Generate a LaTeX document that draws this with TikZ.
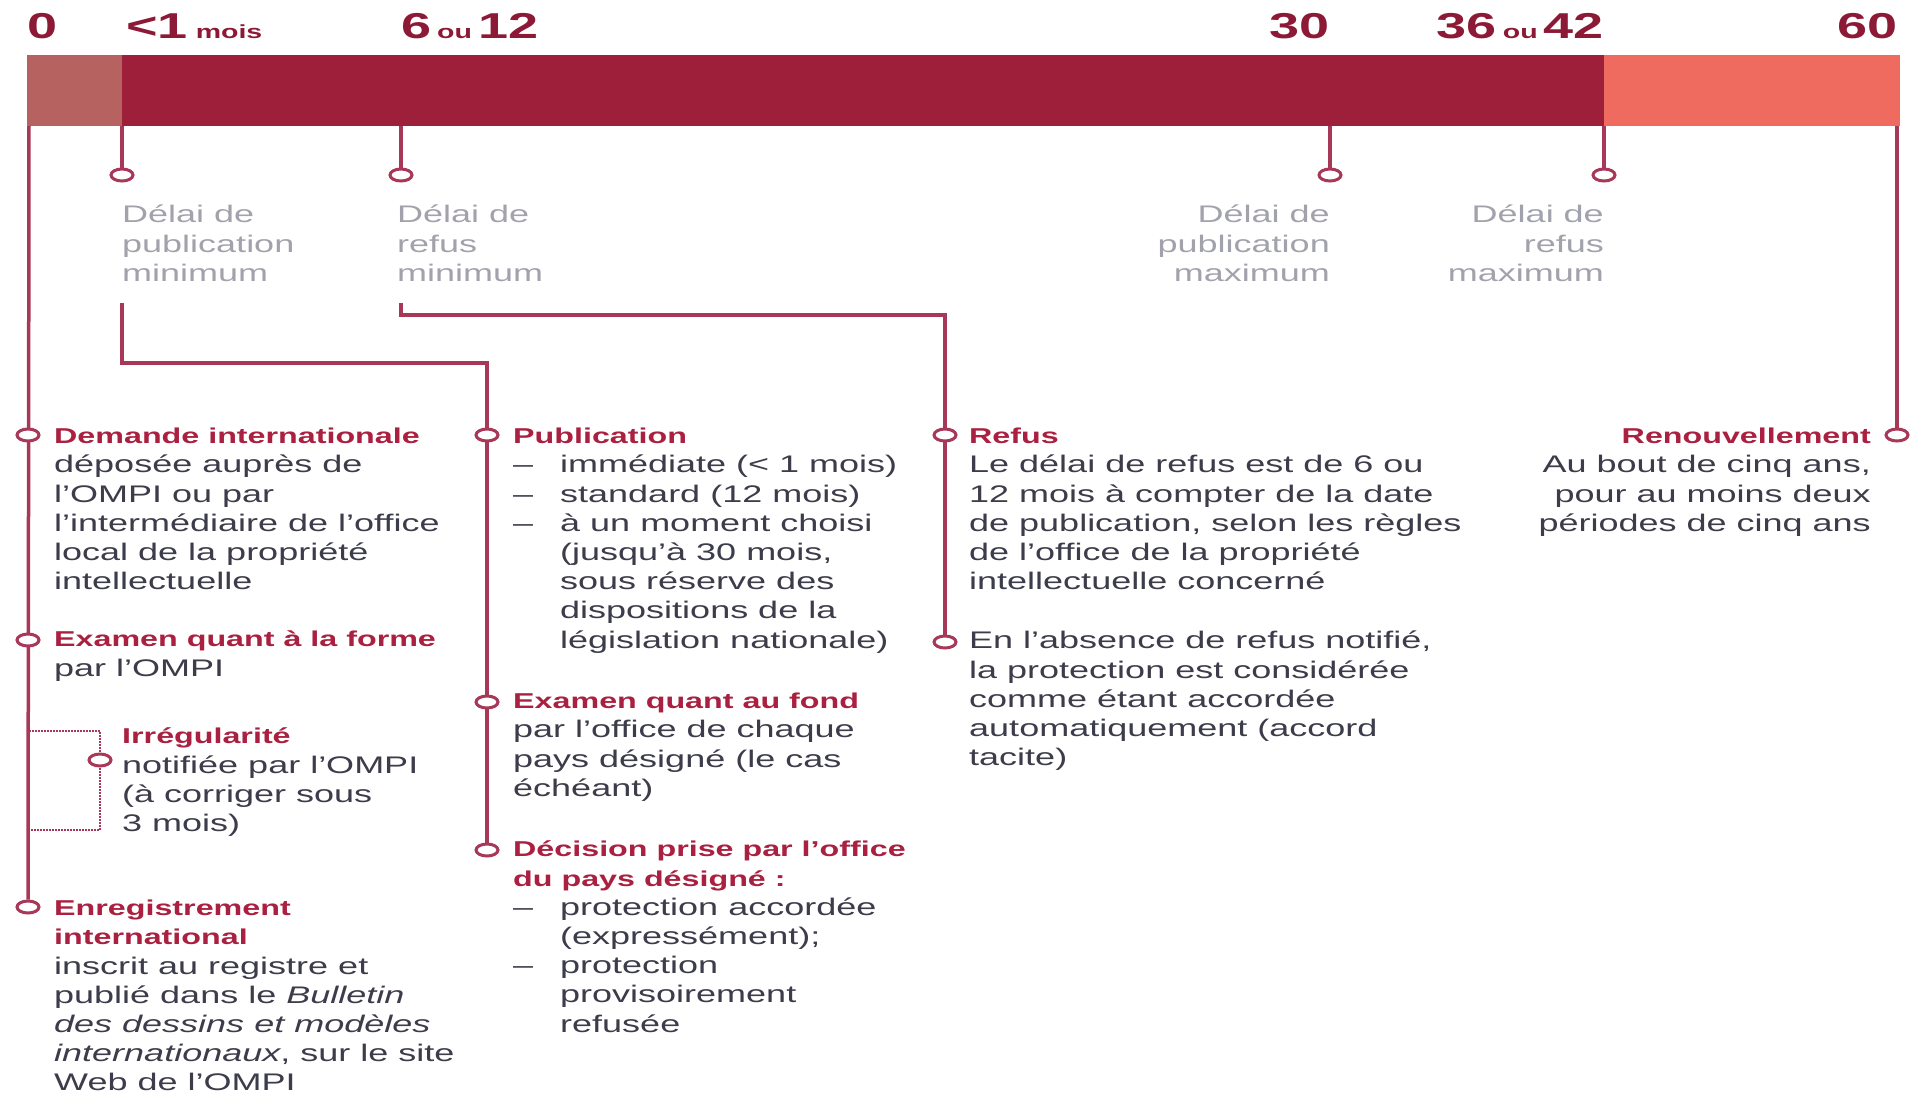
\documentclass[tikz,border=0pt]{standalone}
\usepackage{fontspec}
\setmainfont[FakeStretch=1.5]{Liberation Sans}
\usetikzlibrary{shapes.geometric,backgrounds}

\definecolor{barlight}{RGB}{182,98,96}
\definecolor{bardark}{RGB}{158,31,58}
\definecolor{barsalmon}{RGB}{239,107,95}
\definecolor{numred}{RGB}{140,26,54}
\definecolor{titlered}{RGB}{170,32,64}
\definecolor{linered}{RGB}{168,56,88}
\definecolor{bodygray}{RGB}{60,60,74}
\definecolor{labelgray}{RGB}{162,162,172}

\newcommand{\ttl}[1]{{\fontsize{21.5}{29.2}\selectfont\bfseries\color{titlered}#1}}
\newcommand{\smallred}[1]{{\fontsize{19}{20}\selectfont #1}}
\newcommand{\dashitem}{\makebox[47pt][l]{–}}
\newcommand{\itemgap}{\makebox[47pt]{}}

\tikzset{
  event/.style={ellipse, draw=linered, line width=3pt, fill=white,
    minimum width=22pt, minimum height=12pt, inner sep=0pt},
  timeline/.style={draw=linered, line width=3.5pt},
  irreg/.style={draw=linered, line width=2pt, densely dotted},
  blurb/.style={anchor=north west, inner sep=0pt, align=left, text=bodygray,
    font=\fontsize{24}{29.2}\selectfont, execute at begin node=\strut},
  blurbright/.style={blurb, anchor=north east, align=right},
  delay/.style={blurb, text=labelgray},
  delayright/.style={delay, anchor=north east, align=right},
  monthnum/.style={inner sep=0pt, text=numred, font=\fontsize{36}{40}\selectfont\bfseries},
}

\begin{document}
\begin{tikzpicture}[x=1pt, y=-1pt]
    \useasboundingbox (0,0) rectangle (1916,1096);
    % The bar with the months.
        \fill[barlight] (27,55) rectangle (122,126);
        \fill[bardark] (122,55) rectangle (1604,126);
        \fill[barsalmon] (1604,55) rectangle (1900,126);
        \node[monthnum, anchor=base west] (m0) at (27,38) {0};
        \node[monthnum, anchor=base west] (m1) at (126,38) {<1\hspace{8pt}\smallred{mois}};
        \node[monthnum, anchor=base west] (m2) at (401,38) {6\hspace{6pt}\smallred{ou}\hspace{6pt}12};
        \node[monthnum, anchor=base east] (m3) at (1330,38) {30};
        \node[monthnum, anchor=base east] (m4) at (1604,38) {36\hspace{6pt}\smallred{ou}\hspace{6pt}42};
        \node[monthnum, anchor=base east] (m5) at (1898,38) {60};
    % Points on the lower edge of the bar.
        \coordinate (b0) at (29,126);
        \coordinate (b1) at (122,126);
        \coordinate (b2) at (401,126);
        \coordinate (b3) at (1330,126);
        \coordinate (b4) at (1604,126);
        \coordinate (b5) at (1897,126);
    % Ticks and the delays below them.
        \node[event] (t1) at (122,175) {};
        \node[event] (t2) at (401,175) {};
        \node[event] (t3) at (1330,175) {};
        \node[event] (t4) at (1604,175) {};
        \node[delay] (d1) at (122,205) {Délai de\\publication\\minimum};
        \node[delay] (d2) at (397,205) {Délai de\\refus\\minimum};
        \node[delayright] (d3) at (1330,205) {Délai de\\publication\\maximum};
        \node[delayright] (d4) at (1604,205) {Délai de\\refus\\maximum};
        \coordinate (p1) at (122,303);
        \coordinate (p2) at (401,303);
    % Below nodes are the steps.
        \node[event] (demande) at (28,435) {};
        \node[event] (forme) at (28,640) {};
        \node[event] (irr) at (100,760) {};
        \node[event] (enreg) at (28,907) {};
        \node[event] (pub) at (487,435) {};
        \node[event] (fond) at (487,702) {};
        \node[event] (decision) at (487,850) {};
        \node[event] (refus) at (945,435) {};
        \node[event] (absence) at (945,642) {};
        \node[event] (renouv) at (1897,435) {};
    % This draws the dotted bracket of the irregularity.
        \coordinate (i1) at (29,731);
        \coordinate (i2) at (100,731);
        \coordinate (i3) at (100,830);
        \coordinate (i4) at (29,830);
    % The texts.
        \node[blurb] (txtdemande) at (54,428) {\ttl{Demande internationale}\\déposée auprès de\\l'OMPI ou par\\l'intermédiaire de l'office\\local de la propriété\\intellectuelle};
        \node[blurb] (txtforme) at (54,631) {\ttl{Examen quant à la forme}\\par l'OMPI};
        \node[blurb] (txtirr) at (122,728) {\ttl{Irrégularité}\\notifiée par l'OMPI\\(à corriger sous\\3 mois)};
        \node[blurb] (txtenreg) at (54,900) {\ttl{Enregistrement}\\\ttl{international}\\inscrit au registre et\\publié dans le \textit{Bulletin}\\\textit{des dessins et modèles}\\\textit{internationaux}, sur le site\\Web de l'OMPI};
        \node[blurb] (txtpub) at (513,428) {\ttl{Publication}\\\dashitem immédiate (< 1\hspace{10pt}mois)\\\dashitem standard (12 mois)\\\dashitem à un moment choisi\\\itemgap (jusqu'à 30 mois,\\\itemgap sous réserve des\\\itemgap dispositions de la\\\itemgap législation nationale)};
        \node[blurb] (txtfond) at (513,693) {\ttl{Examen quant au fond}\\par l'office de chaque\\pays désigné (le cas\\échéant)};
        \node[blurb] (txtdecision) at (513,841) {\ttl{Décision prise par l'office}\\\ttl{du pays désigné :}\\\dashitem protection accordée\\\itemgap (expressément);\\\dashitem protection\\\itemgap provisoirement\\\itemgap refusée};
        \node[blurb] (txtrefus) at (969,428) {\ttl{Refus}\\Le délai de refus est de 6 ou\\12 mois à compter de la date\\de publication, selon les règles\\de l'office de la propriété\\intellectuelle concerné};
        \node[blurb] (txtabsence) at (969,631) {En l'absence de refus notifié,\\la protection est considérée\\comme étant accordée\\automatiquement (accord\\tacite)};
        \node[blurbright] (txtrenouv) at (1871,428) {\ttl{Renouvellement}\\Au bout de cinq ans,\\pour au moins deux\\périodes de cinq ans};
    % The lines go under the circles.
    \begin{scope}[on background layer]
        \draw[timeline] (b0) -- (enreg);
        \draw[timeline] (b5) -- (renouv);
        \foreach \t in {1,...,4}
            \draw[timeline] (b\t) -- (t\t);
        \draw[timeline] (p1) -- ++(0,60) -| (decision);
        \draw[timeline] (p2) -- ++(0,12) -| (absence);
        \draw[irreg] (i1) -- (i2) -- (i3) -- (i4);
    \end{scope}
\end{tikzpicture}
\end{document}
